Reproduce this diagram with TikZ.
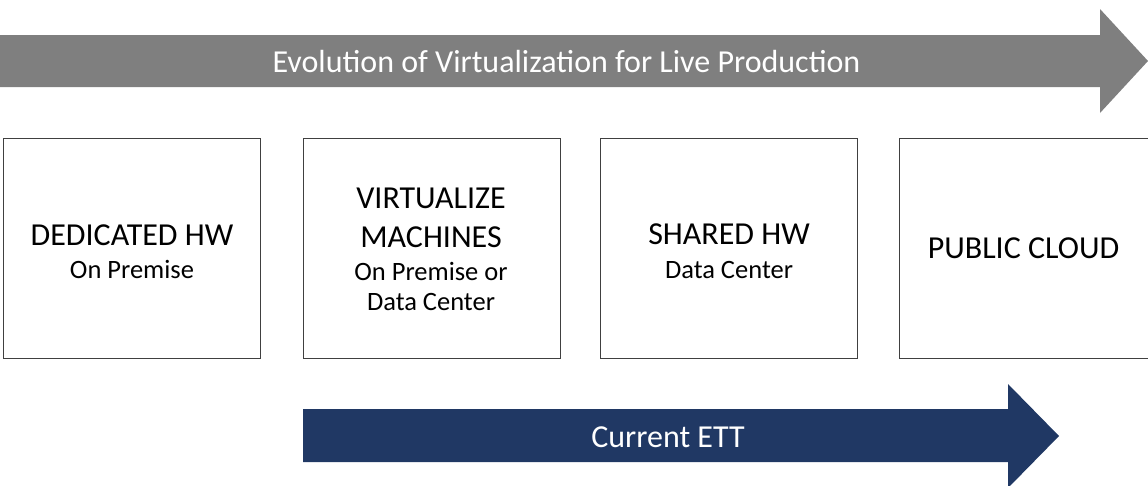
\documentclass[tikz,border=0pt]{standalone}
\usepackage{fontspec}
\setmainfont{Carlito}
\definecolor{arrgray}{HTML}{7F7F7F}
\definecolor{navy}{HTML}{203864}
\definecolor{boxline}{HTML}{404040}
\begin{document}
\begin{tikzpicture}[x=1pt,y=-1pt,
  stage/.style={draw=boxline, line width=1pt, fill=white, minimum width=257pt, minimum height=220pt, inner sep=0pt},
  big/.style={anchor=base, inner sep=0pt, font=\fontsize{32}{38}\selectfont},
  small/.style={anchor=base, inner sep=0pt, font=\fontsize{26.5}{32}\selectfont},
  arrowtext/.style={text=white, inner sep=0pt, font=\fontsize{32}{38}\selectfont}]
\useasboundingbox (0,0) rectangle (1148,485);
% top arrow
\fill[arrgray] (0,35) -- (1100,35) -- (1100,9) -- (1148,61) -- (1100,113) -- (1100,87) -- (0,87) -- cycle;
\node[arrowtext] (evo) at (566.5,62) {Evolution of Virtualization for Live Production};
% boxes
\node[stage] (b1) at (131.5,248) {};
\node[stage] (b2) at (431.5,248) {};
\node[stage] (b3) at (729,248) {};
\node[stage] (b4) at (1027.5,248) {};
% box texts
\node[big]   (t1a) at (132,245) {DEDICATED HW};
\node[small] (t1b) at (132,278) {On Premise};
\node[big]   (t2a) at (431,208) {VIRTUALIZE};
\node[big]   (t2b) at (431,247) {MACHINES};
\node[small] (t2c) at (431,280) {On Premise or};
\node[small] (t2d) at (431,310) {Data Center};
\node[big]   (t3a) at (729,244) {SHARED HW};
\node[small] (t3b) at (729,278) {Data Center};
\node[big]   (t4a) at (1023.5,258) {PUBLIC CLOUD};
% bottom arrow
\fill[navy] (303,409) -- (1008,409) -- (1008,384) -- (1059,436) -- (1008,488) -- (1008,462) -- (303,462) -- cycle;
\node[arrowtext] (ett) at (668,437) {Current ETT};
\end{tikzpicture}
\end{document}
